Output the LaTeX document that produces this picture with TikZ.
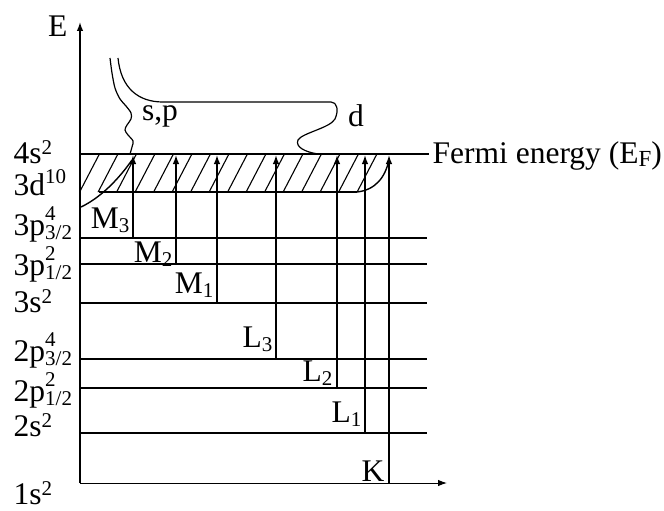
\documentclass[tikz,border=0pt]{standalone}
\usepackage{fontspec}
\setmainfont{Liberation Serif}
\usetikzlibrary{arrows.meta}
\newcommand{\spp}[3][9pt]{#2\raisebox{#1}{\fontsize{21}{21}\selectfont #3}}
\newcommand{\stk}[3]{#1\rlap{\raisebox{15pt}{\fontsize{21}{21}\selectfont #2}}\raisebox{-4pt}{\fontsize{21}{21}\selectfont #3}}
\newcommand{\sbs}[2]{#1\raisebox{-4pt}{\fontsize{21}{21}\selectfont #2}}
\begin{document}
\begin{tikzpicture}[x=1pt,y=-1pt,line width=1.4pt,
  lvl/.style={line width=1.4pt},
  arr/.style={-{Latex[length=9pt,width=6.5pt]},line width=1.4pt},
  txt/.style={font=\fontsize{31.5}{36}\selectfont,inner sep=0pt},
  hatchline/.style={line width=1.1pt}]
\useasboundingbox (0,0) rectangle (664,511);
% axes
\coordinate (oL) at (80,483);
\coordinate (ytop) at (80,22);
\coordinate (xend) at (447,483);
\draw[arr] (oL) -- (ytop);
\draw[arr,line width=1pt] (oL) -- (xend);
\node[txt,anchor=base east] (E) at (68,37) {E};
% levels
\foreach \nm/\y in {p32/238,p12/264,s3/303,q32/359,q12/388,s2/433}{
  \coordinate (\nm L) at (80,\y);
  \coordinate (\nm R) at (427,\y);
  \draw[lvl] (\nm L) -- (\nm R);
}
\coordinate (fL) at (80,154);
\coordinate (fR) at (429,154);
\draw[lvl] (fL) -- (fR);
\node[txt,anchor=base west] (ef) at (432,163) {Fermi energy (E\raisebox{-3pt}{\fontsize{23}{23}\selectfont F})};
% hatched band
\begin{scope}
\clip (80,154) -- (389,154) -- (389,160) .. controls (385,178) and (375,190) .. (357,192) -- (80,192) -- cycle;
\foreach \i in {0,...,18} \draw[hatchline] (58+\i*18.5,198) -- ++(25,-48);
\end{scope}
\coordinate (bandA) at (99,192);
\coordinate (bandB) at (357,192);
\draw[lvl] (bandA) -- (bandB);
\draw[lvl] (bandB) .. controls (375,190) and (385,178) .. (389,160);
\draw[lvl] (81,207) .. controls (100,198) and (118,180) .. (132,160);
% s,p and d curves
\draw[line width=1.2pt] plot[smooth,tension=0.55] coordinates {(110,58) (112,73) (115,88) (120,99) (126,106) (131,113) (131,119) (127,125) (125,130) (128,135) (133,141) (132,147) (130,154)};
\draw[line width=1.2pt] (118,58) .. controls (121,88) and (138,102) .. (163,102) -- (331,102)
   .. controls (337,102) and (339,110) .. (335,119)
   .. controls (330,128) and (302,133) .. (298,140)
   .. controls (295,147) and (305,152) .. (318,154);
\node[txt] (sp) at (160,116) {s,p};
\node[txt] (d) at (356,116) {d};
% transitions
\foreach \nm/\x/\lv in {M3/133/p32,M2/176/p12,M1/217/s3,L3/276/q32,L2/337/q12,L1/365/s2,K/389/o}{
  \coordinate (\nm s) at (\x,0 |- \lv L);
  \coordinate (\nm e) at (\x,155);
  \draw[arr] (\nm s) -- (\nm e);
}
\node[txt,anchor=base east] (lM3) at (130,228) {\sbs{M}{3}};
\node[txt,anchor=base east] (lM2) at (173,262) {\sbs{M}{2}};
\node[txt,anchor=base east] (lM1) at (214,293) {\sbs{M}{1}};
\node[txt,anchor=base east] (lL3) at (273,347) {\sbs{L}{3}};
\node[txt,anchor=base east] (lL2) at (333,381) {\sbs{L}{2}};
\node[txt,anchor=base east] (lL1) at (362,422) {\sbs{L}{1}};
\node[txt,anchor=base east] (lK) at (385,481) {K};
% level labels
\node[txt,anchor=base west] (t4s) at (13,163) {\spp{4s}{2}};
\node[txt,anchor=base west] (t3d) at (13,195) {\spp[12pt]{3d}{10}};
\node[txt,anchor=base west] (t3p3) at (13,235) {\stk{3p}{4}{3/2}};
\node[txt,anchor=base west] (t3p1) at (13,275) {\stk{3p}{2}{1/2}};
\node[txt,anchor=base west] (t3s) at (13,312) {\spp{3s}{2}};
\node[txt,anchor=base west] (t2p3) at (13,361) {\stk{2p}{4}{3/2}};
\node[txt,anchor=base west] (t2p1) at (13,401) {\stk{2p}{2}{1/2}};
\node[txt,anchor=base west] (t2s) at (13,436) {\spp{2s}{2}};
\node[txt,anchor=base west] (t1s) at (13,504) {\spp{1s}{2}};
\end{tikzpicture}
\end{document}
